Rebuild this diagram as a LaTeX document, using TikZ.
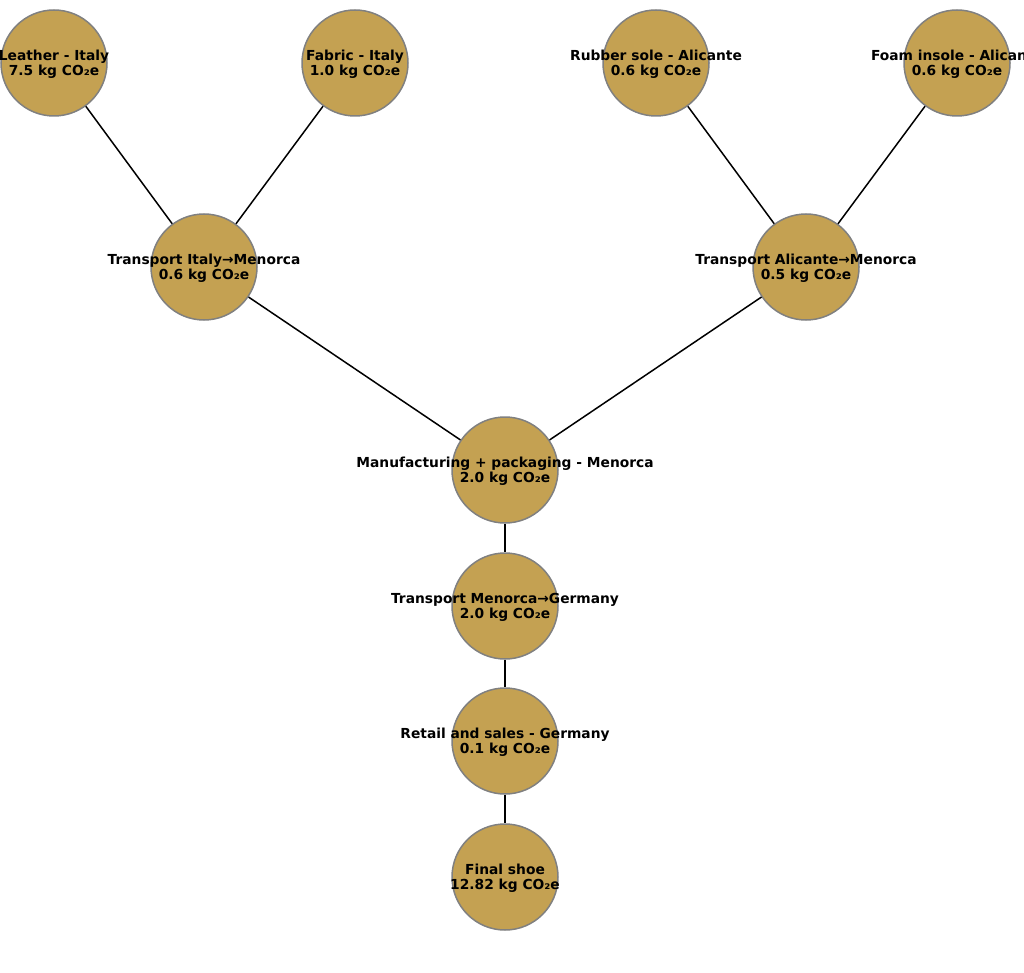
\documentclass[tikz,border=0pt]{standalone}
\usepackage{fontspec}
\setmainfont{DejaVu Sans}
\usepackage{xcolor}
\definecolor{discfill}{RGB}{196,161,82}
\definecolor{discrim}{RGB}{128,128,128}

\begin{document}
\begin{tikzpicture}[x=1pt,y=-1pt,
    disc/.style={circle,fill=discfill,draw=discrim,line width=1.5pt,minimum size=106pt,inner sep=0pt},
    lbl/.style={align=center,font=\fontsize{13.8}{15.4}\selectfont\bfseries,inner sep=0pt,yshift=-1.5pt},
    link/.style={line width=1.5pt}]
        \useasboundingbox (0,0) rectangle (1024,973);

        % 円
        \node[disc] (leather) at (54,63) {};
        \node[disc] (fabric) at (355,63) {};
        \node[disc] (rubber) at (656,63) {};
        \node[disc] (foam) at (957,63) {};
        \node[disc] (trita) at (204,267) {};
        \node[disc] (tralc) at (806,267) {};
        \node[disc] (manuf) at (505,470) {};
        \node[disc] (trger) at (505,606) {};
        \node[disc] (retail) at (505,741) {};
        \node[disc] (shoe) at (505,877) {};

        % 線
        \draw[link] (leather) -- (trita);
        \draw[link] (fabric) -- (trita);
        \draw[link] (rubber) -- (tralc);
        \draw[link] (foam) -- (tralc);
        \draw[link] (trita) -- (manuf);
        \draw[link] (tralc) -- (manuf);
        \draw[link] (manuf) -- (trger);
        \draw[link] (trger) -- (retail);
        \draw[link] (retail) -- (shoe);

        % ラベル
        \node[lbl] at (leather) {Leather - Italy\\7.5 kg CO₂e};
        \node[lbl] at (fabric) {Fabric - Italy\\1.0 kg CO₂e};
        \node[lbl] at (rubber) {Rubber sole - Alicante\\0.6 kg CO₂e};
        \node[lbl] at (foam) {Foam insole - Alicante\\0.6 kg CO₂e};
        \node[lbl] at (trita) {Transport Italy→Menorca\\0.6 kg CO₂e};
        \node[lbl] at (tralc) {Transport Alicante→Menorca\\0.5 kg CO₂e};
        \node[lbl] at (manuf) {Manufacturing + packaging - Menorca\\2.0 kg CO₂e};
        \node[lbl] at (trger) {Transport Menorca→Germany\\2.0 kg CO₂e};
        \node[lbl] at (retail) {Retail and sales - Germany\\0.1 kg CO₂e};
        \node[lbl] at (shoe) {Final shoe\\12.82 kg CO₂e};
      \end{tikzpicture}
\end{document}
